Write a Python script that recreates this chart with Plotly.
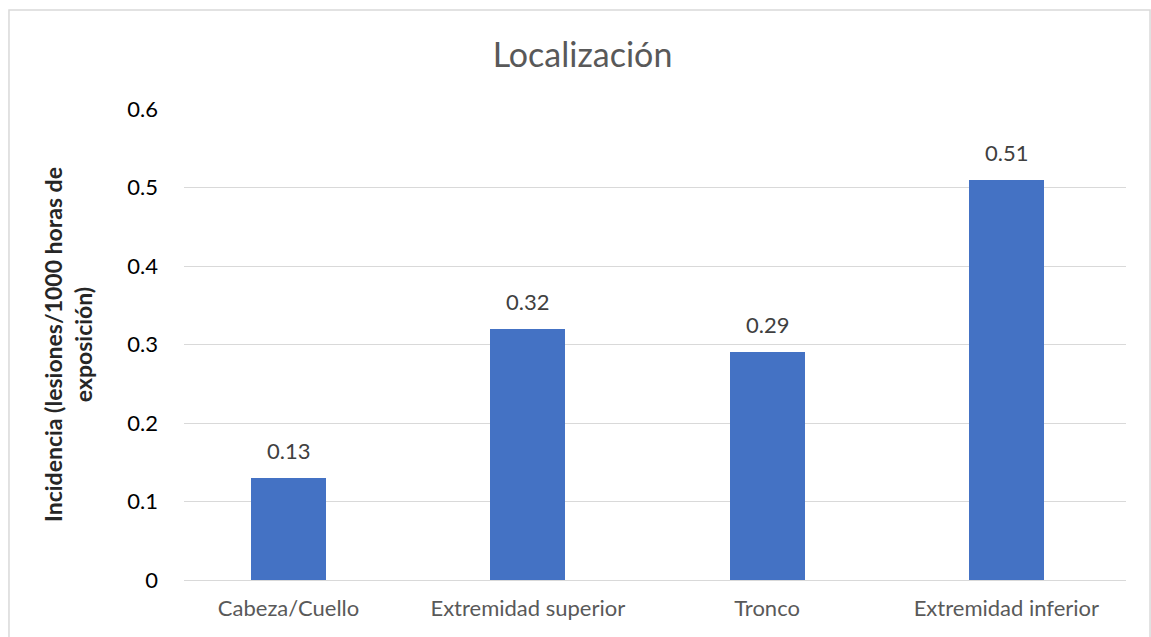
import plotly.graph_objects as go

categories = ["Cabeza/Cuello", "Extremidad superior", "Tronco", "Extremidad inferior"]
values = [0.13, 0.32, 0.29, 0.51]
value_labels = ["0.13", "0.32", "0.29", "0.51"]
y_ticks = [0, 0.1, 0.2, 0.3, 0.4, 0.5, 0.6]
y_tick_labels = ["0", "0.1", "0.2", "0.3", "0.4", "0.5", "0.6"]

FONT = "Lato"

fig = go.Figure()
fig.add_trace(go.Bar(
    x=list(range(len(categories))),
    y=values,
    width=0.313,
    marker=dict(color="#4472C4", line=dict(width=0)),
    hoverinfo="x+y",
))

for i, (v, lab) in enumerate(zip(values, value_labels)):
    fig.add_annotation(x=i, y=v, text=lab, showarrow=False,
                       xanchor="center", yanchor="bottom", yshift=12,
                       font=dict(family=FONT, size=22, color="#404040"))

fig.update_layout(
    width=1151, height=637,
    margin=dict(l=184, r=25, t=109, b=57, pad=0),
    paper_bgcolor="white", plot_bgcolor="white",
    showlegend=False,
    bargap=0,
    title=dict(text="Localización", x=582.5/1151, xanchor="center", y=1 - 55/637, yanchor="middle",
               font=dict(family=FONT, size=34, color="#595959")),
    xaxis=dict(
        range=[-0.437, 3.5],
        tickmode="array", tickvals=list(range(len(categories))), ticktext=categories,
        showgrid=False, zeroline=False, showline=False, ticks="",
        ticklabelstandoff=13,
        tickfont=dict(family=FONT, size=22, color="#595959"),
    ),
    yaxis=dict(
        range=[0, 0.6],
        tickmode="array", tickvals=y_ticks, ticktext=y_tick_labels,
        showgrid=True, gridcolor="#D9D9D9", gridwidth=1,
        zeroline=True, zerolinecolor="#D9D9D9", zerolinewidth=1,
        showline=False, ticks="", ticklabelstandoff=25,
        tickfont=dict(family=FONT, size=22, color="#000000"),
        title=dict(text="<b>Incidencia (lesiones/1000 horas de<br>exposición)</b>",
                   standoff=28, font=dict(family=FONT, size=23, color="#262626")),
    ),
)

fig.add_shape(type="rect", xref="paper", yref="paper",
              x0=-0.1858, x1=1.0255, y0=-0.13, y1=1.2102,
              line=dict(color="#D9D9D9", width=1.5), fillcolor="rgba(0,0,0,0)", layer="below")

fig.write_html("out.html", config={"displayModeBar": False},
               post_script="document.body.style.margin='0px';document.body.style.overflow='hidden';")
